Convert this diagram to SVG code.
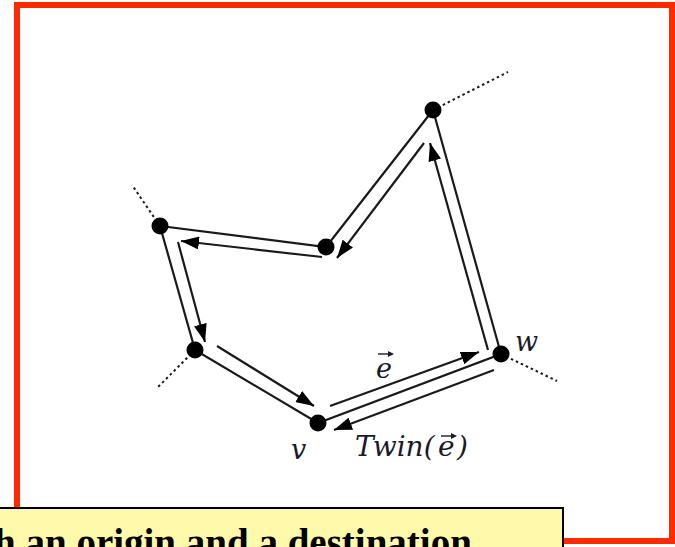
<svg xmlns="http://www.w3.org/2000/svg" width="675" height="547" viewBox="0 0 675 547">
<style>
.edge{stroke:#1a1a1a;stroke-width:2.2;fill:none}
.half{stroke:#1a1a1a;stroke-width:2.2;fill:none;marker-end:url(#ah)}
.dot{stroke:#1a1a1a;stroke-width:2;stroke-dasharray:2.5 3;fill:none}
.v{fill:#000}
.lbl{font-family:"DejaVu Serif","Liberation Serif",serif;font-style:italic;fill:#1a1a2a}
.vec{stroke:#1a1a2a;stroke-width:1.4;fill:none}
.vh{fill:#1a1a2a}
</style>
<defs>
<marker id="ah" markerUnits="userSpaceOnUse" markerWidth="19" markerHeight="13" refX="18" refY="6.5" orient="auto">
<path d="M0,0 L18,6.5 L0,13 Z" fill="#000"/>
</marker>
</defs>
<rect x="0" y="0" width="675" height="547" fill="#fff"/>
<rect x="17" y="5" width="655" height="536" fill="none" stroke="#ff2a00" stroke-width="6"/>
<g id="connectors">
<polyline class="edge" points="433,110 326,247 160,226 195,350 318,423 501,354 433,110"/>
<line class="dot" x1="433" y1="110" x2="508" y2="72"/>
<line class="dot" x1="160" y1="226" x2="132" y2="185"/>
<line class="dot" x1="195" y1="350" x2="157" y2="388"/>
<line class="dot" x1="501" y1="354" x2="557" y2="381"/>
<line class="half" x1="322" y1="257" x2="181" y2="241"/>
<line class="half" x1="178" y1="242" x2="205" y2="342"/>
<line class="half" x1="217" y1="346" x2="314" y2="406"/>
<line class="half" x1="330" y1="406" x2="479" y2="352"/>
<line class="half" x1="488" y1="350" x2="430" y2="143"/>
<line class="half" x1="424" y1="143" x2="337" y2="258"/>
<line class="half" x1="494" y1="370" x2="334" y2="430"/>
</g>
<g id="node-a"><circle class="v" cx="433" cy="110" r="8.5"/></g>
<g id="node-c"><circle class="v" cx="326" cy="247" r="8.5"/></g>
<g id="node-b"><circle class="v" cx="160" cy="226" r="8.5"/></g>
<g id="node-d"><circle class="v" cx="195" cy="350" r="8.5"/></g>
<g id="node-v"><circle class="v" cx="318" cy="423" r="8.5"/><text class="lbl" x="291" y="459" font-size="27">v</text></g>
<g id="node-w"><circle class="v" cx="501" cy="354" r="8.5"/><text class="lbl" x="515" y="351" font-size="27">w</text></g>
<g id="labels">
<text class="lbl" x="376" y="378" font-size="27">e</text>
<line class="vec" x1="378" y1="354" x2="391" y2="354"/>
<path class="vh" d="M394,354 L388,351 L388,357 Z"/>
<text class="lbl" font-size="28" y="456"><tspan x="355">Twin(</tspan><tspan x="438">e</tspan><tspan x="457">)</tspan></text>
<line class="vec" x1="441" y1="436" x2="454" y2="436"/>
<path class="vh" d="M457,436 L451,433 L451,439 Z"/>
</g>
<g id="callout">
<rect x="-3" y="508" width="566" height="60" fill="#fffaab" stroke="#000" stroke-width="2"/>
<text x="-6" y="556" font-family="Liberation Serif, serif" font-weight="bold" font-size="39" fill="#000">h an origin and a destination</text>
</g>
</svg>
